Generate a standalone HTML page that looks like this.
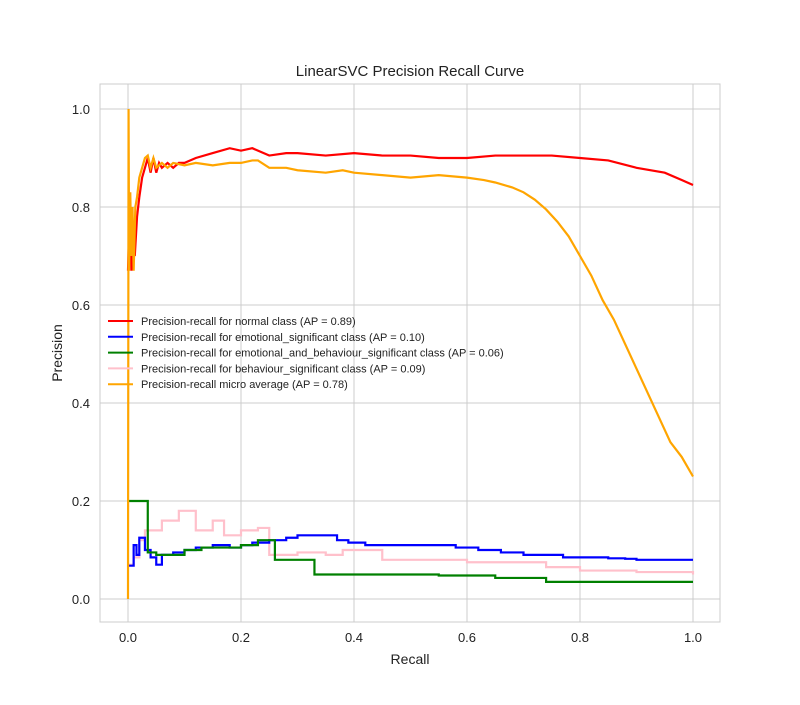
<!DOCTYPE html>
<html><head><meta charset="utf-8"><style>
body{margin:0;background:#fff;font-family:"Liberation Sans",sans-serif}
</style></head><body>
<svg width="800" height="700" xmlns="http://www.w3.org/2000/svg" font-family="Liberation Sans, sans-serif">
<rect x="100" y="84" width="620" height="538" fill="#fff" stroke="#ccc"/>
<g id="grid"></g><g id="ticks"></g><g id="series"></g>
<text x="410" y="76" text-anchor="middle" font-size="15" fill="#222">LinearSVC Precision Recall Curve</text>
<text x="410" y="664" text-anchor="middle" font-size="14" fill="#222">Recall</text>
<text x="62" y="353" text-anchor="middle" font-size="14" fill="#222" transform="rotate(-90 62 353)">Precision</text>
<g id="legend"></g>
</svg>
<script>
const xTicks=[0,0.2,0.4,0.6,0.8,1.0];
const yTicks=[0,0.2,0.4,0.6,0.8,1.0];
const normalR=[0,0.003,0.006,0.009,0.012,0.016,0.02,0.025,0.03,0.035,0.04,0.045,0.05,0.055,0.06,0.07,0.08,0.09,0.1,0.12,0.15,0.18,0.2,0.22,0.25,0.28,0.3,0.35,0.4,0.45,0.5,0.55,0.6,0.65,0.7,0.75,0.8,0.85,0.9,0.95,0.98,1.0];
const normalP=[0.67,0.8,0.67,0.75,0.7,0.78,0.82,0.86,0.88,0.9,0.87,0.9,0.87,0.89,0.88,0.89,0.88,0.89,0.89,0.9,0.91,0.92,0.915,0.92,0.905,0.91,0.91,0.905,0.91,0.905,0.905,0.9,0.9,0.905,0.905,0.905,0.9,0.895,0.88,0.87,0.855,0.845];
const microR=[0,0.001,0.002,0.004,0.006,0.008,0.01,0.013,0.016,0.02,0.025,0.03,0.035,0.04,0.045,0.05,0.06,0.07,0.08,0.1,0.12,0.15,0.18,0.2,0.22,0.23,0.25,0.28,0.3,0.35,0.38,0.4,0.45,0.5,0.55,0.6,0.63,0.65,0.68,0.7,0.72,0.74,0.76,0.78,0.8,0.82,0.84,0.86,0.88,0.9,0.92,0.94,0.96,0.98,1.0];
const microP=[0,1.0,0.67,0.83,0.7,0.8,0.67,0.8,0.82,0.86,0.88,0.9,0.905,0.88,0.9,0.88,0.89,0.88,0.89,0.885,0.89,0.885,0.89,0.89,0.895,0.895,0.88,0.88,0.875,0.87,0.875,0.87,0.865,0.86,0.865,0.86,0.855,0.85,0.84,0.83,0.815,0.795,0.77,0.74,0.7,0.66,0.61,0.57,0.52,0.47,0.42,0.37,0.32,0.29,0.25];
const emoR=[0,0.01,0.015,0.02,0.03,0.04,0.05,0.06,0.08,0.1,0.12,0.15,0.18,0.2,0.22,0.25,0.28,0.3,0.32,0.37,0.39,0.42,0.47,0.5,0.55,0.58,0.62,0.66,0.7,0.73,0.77,0.8,0.85,0.88,0.9,0.95,1.0];
const emoP=[0.068,0.11,0.09,0.125,0.1,0.085,0.07,0.09,0.095,0.1,0.105,0.11,0.105,0.11,0.115,0.12,0.125,0.13,0.13,0.12,0.115,0.11,0.11,0.11,0.11,0.105,0.1,0.095,0.09,0.09,0.085,0.085,0.083,0.082,0.08,0.08,0.08];
const ebR=[0,0.035,0.05,0.07,0.1,0.13,0.17,0.2,0.23,0.26,0.33,0.42,0.55,0.65,0.74,0.9,1.0];
const ebP=[0.2,0.095,0.09,0.09,0.1,0.105,0.105,0.11,0.12,0.08,0.05,0.05,0.048,0.043,0.035,0.035,0.035];
const bhR=[0,0.01,0.02,0.03,0.06,0.09,0.12,0.15,0.17,0.2,0.23,0.25,0.3,0.35,0.38,0.45,0.5,0.6,0.74,0.8,0.9,1.0];
const bhP=[0.07,0.085,0.12,0.14,0.16,0.18,0.14,0.16,0.13,0.14,0.145,0.09,0.095,0.09,0.1,0.08,0.08,0.075,0.065,0.058,0.055,0.05];
const ns="http://www.w3.org/2000/svg";
const X=v=>128+v*565, Y=v=>599-v*490;
function el(t,a,p){const e=document.createElementNS(ns,t);for(const k in a)e.setAttribute(k,a[k]);document.getElementById(p).appendChild(e);return e;}
xTicks.forEach(t=>{const g=el('line',{x1:X(t),x2:X(t),y1:84,y2:622,stroke:'#ccc'},'grid');

const l=el('text',{x:X(t),y:642,'text-anchor':'middle','font-size':13,fill:'#222'},'ticks');l.textContent=t.toFixed(1);
});
yTicks.forEach(t=>{const g=el('line',{x1:100,x2:720,y1:Y(t),y2:Y(t),stroke:'#ccc'},'grid');

const l=el('text',{x:90,y:Y(t)+5,'text-anchor':'end','font-size':13,fill:'#222'},'ticks');l.textContent=t.toFixed(1);
});
function line(r,p,c,step,name){let d='M'+X(r[0])+','+Y(p[0]);
for(let i=1;i<r.length;i++){d+=step?' H'+X(r[i])+' V'+Y(p[i]):' L'+X(r[i])+','+Y(p[i]);}
const e=el('path',{d:d,fill:'none',stroke:c,'stroke-width':2.2},'series');
}
line(bhR,bhP,'pink',true,'behaviour-curve');
line(emoR,emoP,'blue',true,'emotional-curve');
line(ebR,ebP,'green',true,'emotional-behaviour-curve');
line(normalR,normalP,'red',false,'normal-curve');
line(microR,microP,'orange',false,'micro-average-curve');
const legLabels=['Precision-recall for normal class (AP = 0.89)','Precision-recall for emotional_significant class (AP = 0.10)','Precision-recall for emotional_and_behaviour_significant class (AP = 0.06)','Precision-recall for behaviour_significant class (AP = 0.09)','Precision-recall micro average (AP = 0.78)'];
const legColors=['red','blue','green','pink','orange'];
legLabels.forEach((s,i)=>{const y=321+i*15.8;
const l=el('line',{x1:108,x2:133,y1:y,y2:y,stroke:legColors[i],'stroke-width':2},'legend');

const t=el('text',{x:141,y:y+4,'font-size':11,fill:'#222'},'legend');t.textContent=s;
});
</script>
</body></html>
